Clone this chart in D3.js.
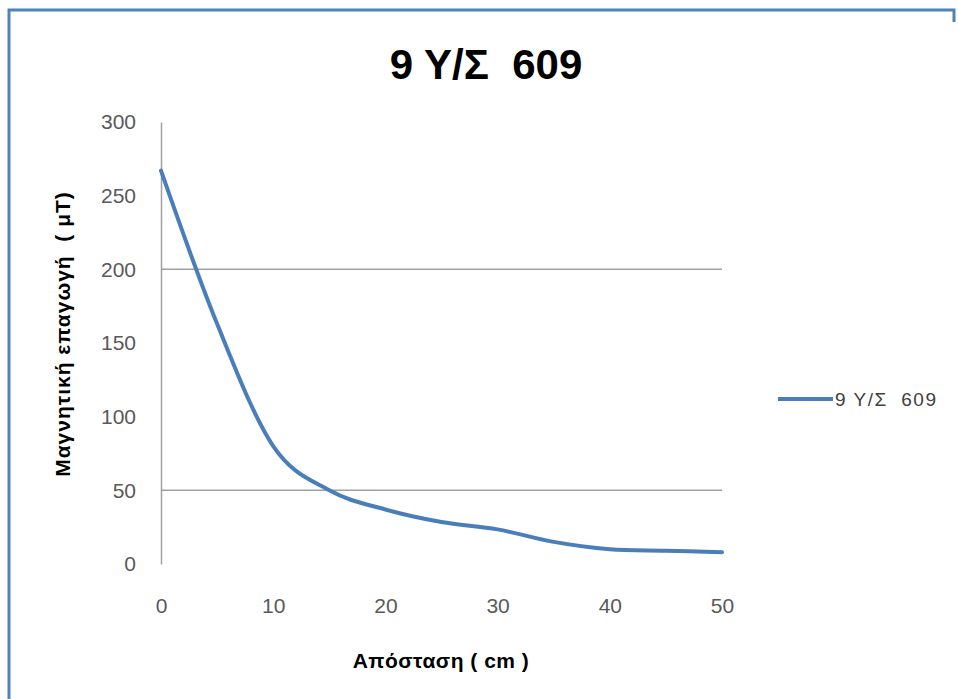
<!DOCTYPE html>
<html>
<head>
<meta charset="utf-8">
<script src="https://cdn.jsdelivr.net/npm/d3@7"></script>
<style>
  body { margin: 0; background: #fff; }
  svg { display: block; }
</style>
</head>
<body>
<svg width="958" height="699"></svg>
<script>
// data
var distance = [0, 5, 10, 15, 20, 25, 30, 35, 40, 45, 50];
var induction = [267, 163, 80, 50, 37, 28.5, 23.5, 15, 10, 9, 8];
var seriesName = "9 Υ/Σ  609";
var yTicks = [0, 50, 100, 150, 200, 250, 300];
var xTicks = [0, 10, 20, 30, 40, 50];
var gridValues = [50, 200];

var width = 958, height = 699;
var margin = {top: 122, left: 161, right: 236, bottom: 135};
var font = "Liberation Sans, Arial, sans-serif";

var svg = d3.select("svg");

// frame
svg.append("path")
    .attr("d", "M9,699 L9,10 L954,10 L954,22")
    .attr("fill", "none")
    .attr("stroke", "#4f81bd")
    .attr("stroke-width", 3);

var x = d3.scaleLinear().domain([0, 50]).range([margin.left, width - margin.right]);
var y = d3.scaleLinear().domain([0, 300]).range([height - margin.bottom, margin.top]);

// gridlines
svg.append("g")
    .selectAll("line")
    .data(gridValues)
    .enter().append("line")
    .attr("x1", x(0)).attr("x2", x(50))
    .attr("y1", function (d) { return y(d); })
    .attr("y2", function (d) { return y(d); })
    .attr("stroke", "#a0a0a0")
    .attr("stroke-width", 1.5);

// y axis
var yAxis = svg.append("g")
    .attr("transform", "translate(" + x(0) + ",0)")
    .call(d3.axisLeft(y).tickValues(yTicks).tickSize(0).tickPadding(25));
yAxis.select(".domain").attr("stroke", "#a0a0a0").attr("stroke-width", 1.5);
yAxis.selectAll("text")
    .attr("font-family", font)
    .attr("font-size", 21)
    .attr("fill", "#595959");

// x axis (labels only)
var xAxis = svg.append("g")
    .attr("transform", "translate(0," + y(0) + ")")
    .call(d3.axisBottom(x).tickValues(xTicks).tickSize(0).tickPadding(34));
xAxis.select(".domain").remove();
xAxis.selectAll("text")
    .attr("font-family", font)
    .attr("font-size", 21)
    .attr("fill", "#595959");

// series line
var line = d3.line()
    .x(function (d, i) { return x(distance[i]); })
    .y(function (d) { return y(d); })
    .curve(d3.curveCardinal.tension(0));

svg.append("path")
    .datum(induction)
    .attr("d", line)
    .attr("fill", "none")
    .attr("stroke", "#4a7ebb")
    .attr("stroke-width", 4)
    .attr("stroke-linecap", "round");

// title
svg.append("text")
    .attr("x", 486).attr("y", 79)
    .attr("text-anchor", "middle")
    .attr("font-family", font)
    .attr("font-weight", "bold")
    .attr("font-size", 42)
    .attr("fill", "#000")
    .style("white-space", "pre")
    .text(seriesName);

// axis titles
svg.append("text")
    .attr("x", 441).attr("y", 668)
    .attr("text-anchor", "middle")
    .attr("font-family", font)
    .attr("font-weight", "bold")
    .attr("font-size", 21)
    .attr("letter-spacing", 0.5)
    .text("Απόσταση ( cm )");

svg.append("text")
    .attr("transform", "translate(70,334) rotate(-90)")
    .attr("text-anchor", "middle")
    .attr("font-family", font)
    .attr("font-weight", "bold")
    .attr("font-size", 21)
    .attr("letter-spacing", 1)
    .style("white-space", "pre")
    .text("Μαγνητική επαγωγή  ( μT)");

// legend
var legend = svg.append("g").attr("transform", "translate(778,399)");
legend.append("line")
    .attr("x1", 0).attr("x2", 55)
    .attr("stroke", "#4a7ebb")
    .attr("stroke-width", 4);
legend.append("text")
    .attr("x", 57).attr("y", 7)
    .attr("font-family", font)
    .attr("font-size", 19)
    .attr("letter-spacing", 1.5)
    .attr("fill", "#404040")
    .style("white-space", "pre")
    .text(seriesName);
</script>
</body>
</html>
